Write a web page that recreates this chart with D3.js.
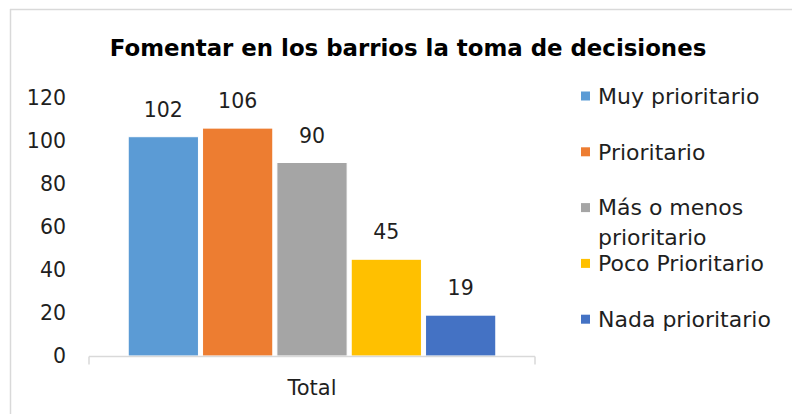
<!DOCTYPE html>
<html>
<head>
<meta charset="utf-8">
<script src="https://cdn.jsdelivr.net/npm/d3@7"></script>
<style>
  html, body { margin: 0; padding: 0; background: #fff; }
  svg { display: block; }
  text { font-family: "DejaVu Sans", sans-serif; }
</style>
</head>
<body>
<svg id="chart" width="792" height="414"></svg>
<script>
const title = "Fomentar en los barrios la toma de decisiones";
const categories = ["Total"];
const seriesNames = ["Muy prioritario", "Prioritario", "Más o menos prioritario", "Poco Prioritario", "Nada prioritario"];
const seriesValues = [102, 106, 90, 45, 19];
const seriesColors = ["#5B9BD5", "#ED7D31", "#A5A5A5", "#FFC000", "#4472C4"];
const yTicks = [0, 20, 40, 60, 80, 100, 120];
const legendLines = [["Muy prioritario"], ["Prioritario"], ["Más o menos", "prioritario"], ["Poco Prioritario"], ["Nada prioritario"]];

const FONT = "'DejaVu Sans', sans-serif";
const TXT = "#1f1f1f";
const svg = d3.select("#chart");
const W = 792, H = 414;

// outer frame (top and left edges visible)
svg.append("line").attr("x1", 10).attr("y1", 9.5).attr("x2", W).attr("y2", 9.5)
  .attr("stroke", "#d9d9d9").attr("stroke-width", 1.5);
svg.append("line").attr("x1", 10.5).attr("y1", 9).attr("x2", 10.5).attr("y2", H)
  .attr("stroke", "#d9d9d9").attr("stroke-width", 1.5);

// title
const tt = svg.append("text").attr("x", 408).attr("y", 56).attr("text-anchor", "middle")
  .attr("font-size", 23).attr("font-weight", "bold").attr("fill", "#000")
  .text(title);
// fit the title to its width in the reference
const tw = tt.node().getComputedTextLength();
if (tw > 0) tt.attr("font-size", 23 * 597 / tw);

const plot = { left: 89, right: 535, top: 98, bottom: 356 };

const y = d3.scaleLinear().domain([0, 120]).range([plot.bottom, plot.top]);
const x0 = d3.scaleBand().domain(categories).range([plot.left, plot.right])
  .paddingInner(0).paddingOuter(0.1);
const x1 = d3.scaleBand().domain(seriesNames).range([0, x0.bandwidth()])
  .paddingInner(0.055).paddingOuter(0.0275);
const color = d3.scaleOrdinal().domain(seriesNames).range(seriesColors);

// y tick labels
const yAxis = d3.axisLeft(y).tickValues(yTicks).tickSize(0).tickPadding(0);
const ya = svg.append("g").attr("transform", "translate(66,0)").call(yAxis);
ya.select(".domain").remove();
ya.selectAll("text").attr("font-size", 20.5).attr("fill", TXT)
  .style("font-family", FONT);

// bars
const data = seriesNames.map((s, i) => ({ cat: categories[0], name: s, value: seriesValues[i] }));
const g = svg.append("g");
g.selectAll("rect").data(data).join("rect")
  .attr("x", d => x0(d.cat) + x1(d.name))
  .attr("y", d => y(d.value))
  .attr("width", x1.bandwidth())
  .attr("height", d => y(0) - y(d.value))
  .attr("fill", d => color(d.name))
  .attr("stroke", "#fff").attr("stroke-width", 1);

// data labels
g.selectAll("text.lbl").data(data).join("text").attr("class", "lbl")
  .attr("x", d => x0(d.cat) + x1(d.name) + x1.bandwidth() / 2)
  .attr("y", d => y(d.value) - 20)
  .attr("text-anchor", "middle").attr("font-size", 20.5).attr("fill", TXT)
  .text(d => d.value);

// x axis
const xAxis = d3.axisBottom(x0).tickSize(0).tickPadding(0);
const xa = svg.append("g").attr("transform", `translate(0,${plot.bottom + 0.5})`).call(xAxis);
xa.select(".domain").remove();
xa.selectAll("text").attr("font-size", 21).attr("fill", TXT).attr("dy", 0)
  .attr("y", 38).style("font-family", FONT);
xa.append("line").attr("x1", plot.left).attr("x2", plot.right).attr("y1", 0).attr("y2", 0)
  .attr("stroke", "#d9d9d9").attr("stroke-width", 1.5);
[plot.left, plot.right].forEach(px => {
  xa.append("line").attr("x1", px).attr("x2", px).attr("y1", 0).attr("y2", 8)
    .attr("stroke", "#d9d9d9").attr("stroke-width", 1.5);
});

// legend
const leg = svg.append("g");
seriesNames.forEach((s, i) => {
  const cy = 96 + i * 55.8;
  leg.append("rect").attr("x", 581).attr("y", cy - 4.5).attr("width", 9).attr("height", 9)
    .attr("fill", color(s));
  const t = leg.append("text").attr("x", 598).attr("y", cy)
    .attr("font-size", 22).attr("fill", TXT);
  legendLines[i].forEach((ln, j) => {
    t.append("tspan").attr("x", 598).attr("dy", j === 0 ? "0.35em" : 30).text(ln);
  });
});
</script>
</body>
</html>
